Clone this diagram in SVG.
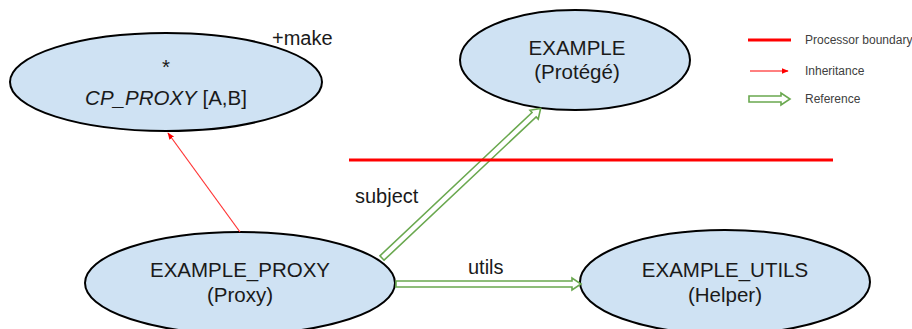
<svg xmlns="http://www.w3.org/2000/svg" width="912" height="329" viewBox="0 0 912 329">
<defs>
<style>
.node ellipse{fill:#cfe2f3;stroke:#000;stroke-width:2}
text{font-family:"Liberation Sans",Arial,sans-serif;fill:#1a1a1a}
.t{font-size:20.5px;text-anchor:middle}
.lbl{font-size:20px}
.leg{font-size:12px;fill:#404040}
.ref{fill:#fff;stroke:#6aa84f;stroke-width:1.6;stroke-linejoin:miter}
.inh{stroke:#ff3333;stroke-width:1.2;fill:none}
</style>
<marker id="ah" viewBox="0 0 10 10" refX="9" refY="5" markerWidth="7" markerHeight="7" orient="auto" markerUnits="userSpaceOnUse">
<path d="M0,1 L10,5 L0,9 z" fill="#ff0000"/>
</marker>
</defs>
<rect width="912" height="329" fill="#fff"/>

<g id="cp_proxy" class="node">
<ellipse cx="166" cy="82" rx="156" ry="49"/>
<text class="t" x="166" y="74" font-size="17">*</text>
<text class="t" x="166" y="105"><tspan font-style="italic">CP_PROXY</tspan> [A,B]</text>
</g>
<text class="lbl" x="272" y="45">+make</text>

<g id="example" class="node">
<ellipse cx="575" cy="60" rx="115" ry="50"/>
<text class="t" x="577" y="55">EXAMPLE</text>
<text class="t" x="577" y="79">(Protégé)</text>
</g>

<g id="example_proxy" class="node">
<ellipse cx="240" cy="283" rx="155" ry="51"/>
<text class="t" x="240" y="277">EXAMPLE_PROXY</text>
<text class="t" x="240" y="302">(Proxy)</text>
</g>

<g id="example_utils" class="node">
<ellipse cx="725" cy="282" rx="145" ry="52"/>
<text class="t" x="725" y="277">EXAMPLE_UTILS</text>
<text class="t" x="725" y="302">(Helper)</text>
</g>

<g id="connectors">
<line class="inh" x1="240" y1="232" x2="168" y2="133" marker-end="url(#ah)"/>
<polygon class="ref" transform="translate(382,258) rotate(-43.3)" points="0,-3 209,-3 209,-6 218,0 209,6 209,3 0,3"/>
<polygon class="ref" transform="translate(396,284)" points="0,-3 176,-3 176,-6 185,0 176,6 176,3 0,3"/>
<text class="lbl" x="355" y="203">subject</text>
<text class="lbl" x="468" y="274">utils</text>
</g>

<line x1="349" y1="160" x2="833" y2="160" stroke="#ff0000" stroke-width="3"/>

<g id="legend">
<line x1="748" y1="40" x2="791" y2="40" stroke="#ff0000" stroke-width="3"/>
<text class="leg" x="805" y="44">Processor boundary</text>
<line x1="750" y1="71" x2="788" y2="71" stroke="#ff0000" stroke-width="1" marker-end="url(#ah)"/>
<text class="leg" x="805" y="75">Inheritance</text>
<polygon class="ref" transform="translate(749,99)" points="0,-3 32,-3 32,-6 41,0 32,6 32,3 0,3"/>
<text class="leg" x="805" y="103">Reference</text>
</g>
</svg>
